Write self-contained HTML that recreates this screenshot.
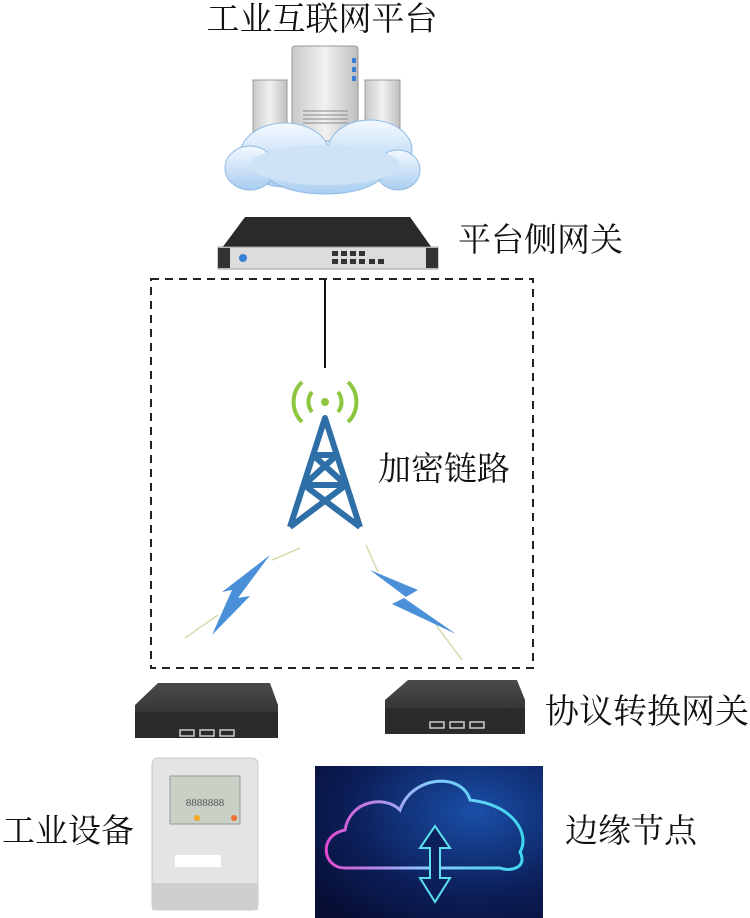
<!DOCTYPE html>
<html><head><meta charset="utf-8"><style>
body{margin:0;background:#fff;}
svg{display:block;font-family:"Liberation Serif","Noto Serif CJK SC",serif;}
</style></head><body>
<svg width="750" height="918" viewBox="0 0 750 918">
<defs>
<linearGradient id="srv" x1="0" x2="1"><stop offset="0" stop-color="#c8c8c8"/><stop offset=".5" stop-color="#f2f2f2"/><stop offset="1" stop-color="#bdbdbd"/></linearGradient>
<linearGradient id="cl" x1="0" y1="0" x2="0" y2="1"><stop offset="0" stop-color="#f4f9ff"/><stop offset="1" stop-color="#a9cdf0"/></linearGradient>
<linearGradient id="box" x1="0" y1="0" x2="0" y2="1"><stop offset="0" stop-color="#4a4a4a"/><stop offset="1" stop-color="#262626"/></linearGradient>
<radialGradient id="bg" cx=".7" cy=".3" r=".9"><stop offset="0" stop-color="#1a4fa8"/><stop offset=".6" stop-color="#0c1f5a"/><stop offset="1" stop-color="#070d33"/></radialGradient>
<linearGradient id="cg" x1="0" x2="1"><stop offset="0" stop-color="#e04ad0"/><stop offset=".5" stop-color="#8cc8ff"/><stop offset="1" stop-color="#3fd8f0"/></linearGradient>
</defs>
<text x="322" y="30" font-size="33" text-anchor="middle" fill="#111">工业互联网平台</text>
<!-- servers -->
<rect x="253" y="80" width="34" height="55" fill="url(#srv)" stroke="#999"/>
<rect x="365" y="80" width="35" height="55" fill="url(#srv)" stroke="#999"/>
<rect x="292" y="46" width="66" height="95" rx="3" fill="url(#srv)" stroke="#999"/>
<g fill="#3a7fd6"><rect x="352" y="58" width="4" height="5"/><rect x="352" y="67" width="4" height="5"/><rect x="352" y="76" width="4" height="5"/></g>
<g stroke="#888"><line x1="303" y1="111" x2="348" y2="111"/><line x1="303" y1="115" x2="348" y2="115"/><line x1="303" y1="119" x2="348" y2="119"/><line x1="303" y1="123" x2="348" y2="123"/></g>
<!-- cloud -->
<g fill="url(#cl)" stroke="#8dbbe6">
<ellipse cx="285" cy="155" rx="45" ry="32"/><ellipse cx="370" cy="150" rx="42" ry="30"/>
<ellipse cx="250" cy="168" rx="25" ry="22"/><ellipse cx="398" cy="170" rx="22" ry="20"/>
<ellipse cx="325" cy="170" rx="60" ry="24"/>
</g>
<ellipse cx="325" cy="165" rx="75" ry="20" fill="#cfe3f7"/>
<!-- gateway rack -->
<polygon points="245,217 410,217 432,248 222,248" fill="#2a2a2a"/>
<rect x="218" y="247" width="220" height="22" fill="#dcdcdc" stroke="#999"/>
<rect x="218" y="248" width="12" height="20" fill="#333"/><rect x="426" y="248" width="12" height="20" fill="#333"/>
<g fill="#333"><rect x="332" y="251" width="6" height="5"/><rect x="341" y="251" width="6" height="5"/><rect x="350" y="251" width="6" height="5"/><rect x="359" y="251" width="6" height="5"/><rect x="332" y="259" width="6" height="5"/><rect x="341" y="259" width="6" height="5"/><rect x="350" y="259" width="6" height="5"/><rect x="359" y="259" width="6" height="5"/><rect x="369" y="259" width="6" height="5"/><rect x="378" y="259" width="6" height="5"/></g>
<circle cx="243" cy="258" r="4" fill="#3a7fd6"/>
<text x="458" y="251" font-size="33" fill="#111">平台侧网关</text>
<!-- dashed box -->
<rect x="151" y="279" width="382" height="389" fill="none" stroke="#222" stroke-width="2" stroke-dasharray="8,6"/>
<line x1="325" y1="280" x2="325" y2="368" stroke="#111" stroke-width="2"/>
<!-- wifi -->
<circle cx="325" cy="402" r="4" fill="#8cc63f"/>
<g fill="none" stroke="#8cc63f" stroke-width="4">
<path d="M312,392 A16,16 0 0,0 312,412"/><path d="M338,392 A16,16 0 0,1 338,412"/>
<path d="M302,382 A28,28 0 0,0 302,422"/><path d="M348,382 A28,28 0 0,1 348,422"/>
</g>
<!-- tower -->
<g stroke="#2f6fa8" stroke-width="6" fill="none" stroke-linejoin="round">
<polyline points="290,527 325,418 360,527"/>
<line x1="313" y1="455" x2="337" y2="455"/><line x1="304" y1="485" x2="346" y2="485"/>
<line x1="313" y1="455" x2="346" y2="485"/><line x1="337" y1="455" x2="304" y2="485"/>
<line x1="304" y1="485" x2="360" y2="527"/><line x1="346" y1="485" x2="290" y2="527"/>
</g>
<text x="378" y="480" font-size="33" fill="#111">加密链路</text>
<!-- lightning -->
<line x1="185" y1="638" x2="218" y2="615" stroke="#d4dcb0" stroke-width="1.5"/>
<line x1="272" y1="560" x2="300" y2="548" stroke="#d4dcb0" stroke-width="1.5"/>
<polygon points="270,555 238,598 250,596 212,635 232,590 222,592" fill="#4a90d9"/>
<line x1="366" y1="545" x2="378" y2="572" stroke="#d4dcb0" stroke-width="1.5"/>
<line x1="436" y1="625" x2="462" y2="660" stroke="#d4dcb0" stroke-width="1.5"/>
<polygon points="370,570 418,590 404,598 456,634 392,604 406,597" fill="#4a90d9"/>
<!-- devices -->
<polygon points="158,683 270,683 278,705 278,737 135,737 135,705" fill="url(#box)"/>
<rect x="135" y="712" width="143" height="26" fill="#2b2b2b"/>
<g fill="none" stroke="#ccc" stroke-width="1.5"><rect x="180" y="730" width="14" height="6"/><rect x="200" y="730" width="14" height="6"/><rect x="220" y="730" width="14" height="6"/></g>
<polygon points="408,680 517,680 525,700 525,733 385,733 385,700" fill="url(#box)"/>
<rect x="385" y="708" width="140" height="26" fill="#2b2b2b"/>
<g fill="none" stroke="#ccc" stroke-width="1.5"><rect x="430" y="722" width="14" height="6"/><rect x="450" y="722" width="14" height="6"/><rect x="470" y="722" width="14" height="6"/></g>
<text x="545" y="723" font-size="34" fill="#111">协议转换网关</text>
<!-- meter -->
<rect x="152" y="758" width="106" height="152" rx="6" fill="#e4e4e4" stroke="#c8c8c8"/>
<rect x="170" y="776" width="70" height="48" fill="#c9d1c6" stroke="#999"/>
<text x="205" y="806" font-size="11" text-anchor="middle" fill="#555">8888888</text>
<circle cx="197" cy="818" r="3" fill="#f5a623"/><circle cx="234" cy="818" r="3" fill="#f07030"/>
<rect x="175" y="855" width="46" height="12" fill="#fff"/>
<rect x="152" y="883" width="106" height="27" fill="#cfcfcf"/>
<text x="2" y="842" font-size="33" fill="#111">工业设备</text>
<!-- cloud image -->
<rect x="315" y="766" width="228" height="152" fill="url(#bg)"/>
<path d="M345,868 C322,868 318,835 345,830 C350,800 385,795 400,810 C412,775 462,772 470,800 C515,805 530,835 520,852 C528,868 510,872 500,868 Z" fill="none" stroke="url(#cg)" stroke-width="3"/>
<polygon points="435,826 420,848 430,848 430,878 420,878 435,902 450,878 440,878 440,848 450,848" fill="#0c1f5a" stroke="#5ce0f0" stroke-width="2"/>
<text x="565" y="842" font-size="33" fill="#111">边缘节点</text>
</svg>
</body></html>
